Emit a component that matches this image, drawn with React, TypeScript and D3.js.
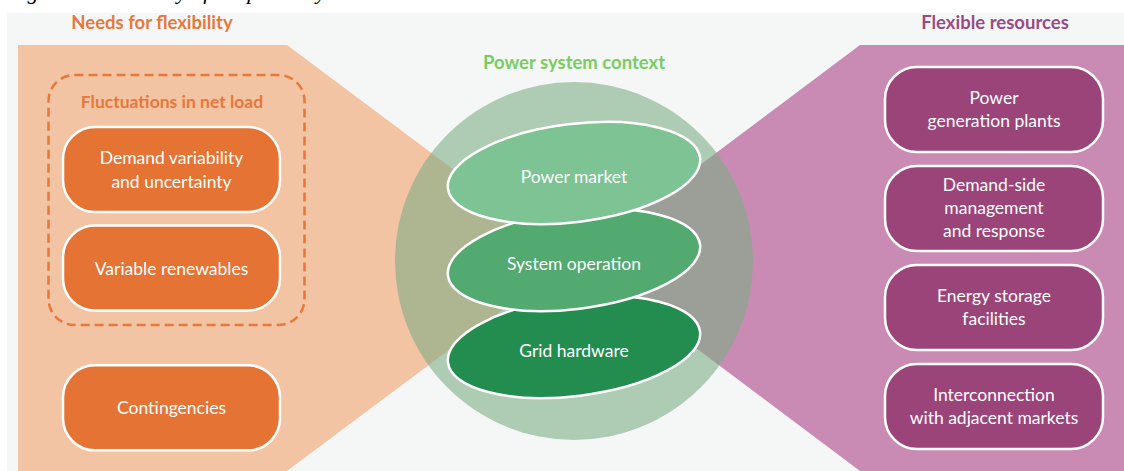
import React from "react";
import * as d3 from "d3";

const W = 1124;
const H = 471;

const captionText = "Figure 1: Flexibility of the power system";
const needsTitle = "Needs for flexibility";
const groupTitle = "Fluctuations in net load";
const needsBoxes = [
  ["Demand variability", "and uncertainty"],
  ["Variable renewables"],
  ["Contingencies"],
];
const needsSlots = [0, 1, 2.42];
const contextTitle = "Power system context";
const layers = ["Power market", "System operation", "Grid hardware"];
const layerColors = ["#7dc393", "#53aa70", "#238d50"];
const resourcesTitle = "Flexible resources";
const resourceBoxes = [
  ["Power", "generation plants"],
  ["Demand-side", "management", "and response"],
  ["Energy storage", "facilities"],
  ["Interconnection", "with adjacent markets"],
];

const FONT = "Lato, 'Open Sans', sans-serif";

function MultiLine({ lines, x, y, lh, size, fill, weight }: any) {
  const off = -((lines.length - 1) * lh) / 2;
  return (
    <text
      x={x}
      y={y}
      textAnchor="middle"
      fontFamily={FONT}
      fontSize={size}
      fontWeight={weight || 400}
      fill={fill}
    >
      {lines.map((l: string, i: number) => (
        <tspan key={i} x={x} y={y + off + i * lh} dominantBaseline="central">
          {l}
        </tspan>
      ))}
    </text>
  );
}

export default function App() {
  const needsY = d3.scaleLinear().domain([0, 1]).range([169.5, 268]);
  const resY = d3.scalePoint<number>().domain(d3.range(resourceBoxes.length)).range([109.5, 406.5]);
  const layerY = d3.scalePoint<number>().domain(d3.range(layers.length)).range([173, 347]);

  const cx = 574;
  const cy = 261;
  const R = 179;

  const leftPoly = [
    [18, 45],
    [287, 45],
    [572, 258],
    [287, 471],
    [18, 471],
  ];
  const rightPoly = [
    [1124, 45],
    [860, 45],
    [576, 258],
    [860, 471],
    [1124, 471],
  ];
  const line = d3.line();

  const boxW = 217;
  const boxH = 85;
  const leftBoxX = 63;
  const rightBoxX = 885;

  const layerOrder = d3.range(layers.length).reverse();

  return (
    <svg
      width={W}
      height={H}
      style={{ position: "absolute", left: 0, top: 0 }}
    >
      <rect x={0} y={0} width={W} height={H} fill="#ffffff" />
      <text
        x={8}
        y={-1}
        fontFamily="'Liberation Serif', serif"
        fontStyle="italic"
        fontSize={22}
        fill="#000"
      >
        {captionText}
      </text>
      <rect x={7} y={13} width={W - 7} height={H - 13} fill="#f5f7f7" />

      <path d={line(leftPoly as any) + "Z"} fill="#f2c4a3" />
      <path d={line(rightPoly as any) + "Z"} fill="#c98bb3" />

      <text x={152} y={22} textAnchor="middle" dominantBaseline="central" fontFamily={FONT} fontWeight={700} fontSize={18.5} fill="#e8783a">
        {needsTitle}
      </text>
      <text x={995} y={22} textAnchor="middle" dominantBaseline="central" fontFamily={FONT} fontWeight={700} fontSize={18.5} fill="#9a4a83">
        {resourcesTitle}
      </text>

      <rect
        x={48.5}
        y={75}
        width={256}
        height={250}
        rx={26}
        fill="none"
        stroke="#e8773a"
        strokeWidth={2.5}
        strokeDasharray="9 5"
      />
      <text x={172} y={101} textAnchor="middle" dominantBaseline="central" fontFamily={FONT} fontWeight={700} fontSize={17.5} fill="#e8773a">
        {groupTitle}
      </text>

      {needsBoxes.map((lines, i) => {
        const y = needsY(needsSlots[i]);
        return (
          <g key={i}>
            <rect
              x={leftBoxX}
              y={y - boxH / 2}
              width={boxW}
              height={boxH}
              rx={32}
              fill="#e57334"
              stroke="#ffffff"
              strokeWidth={2.5}
            />
            <MultiLine lines={lines} x={leftBoxX + boxW / 2} y={y} lh={23.5} size={17.5} fill="#ffffff" />
          </g>
        );
      })}

      <circle cx={cx} cy={cy} r={R} fill="#7fae86" fillOpacity={0.6} />
      <text x={cx} y={62} textAnchor="middle" dominantBaseline="central" fontFamily={FONT} fontWeight={700} fontSize={18.5} fill="#79cc62">
        {contextTitle}
      </text>

      {layerOrder.map((i) => {
        const y = layerY(i) as number;
        return (
          <g key={i} transform={`translate(${cx},${y}) rotate(-7)`}>
            <ellipse cx={0} cy={0} rx={127} ry={49} fill={layerColors[i]} stroke="#ffffff" strokeWidth={2.5} />
          </g>
        );
      })}
      {layers.map((l, i) => (
        <text
          key={l}
          x={cx}
          y={(layerY(i) as number) + 3}
          textAnchor="middle"
          dominantBaseline="central"
          fontFamily={FONT}
          fontSize={17.5}
          fill="#ffffff"
        >
          {l}
        </text>
      ))}

      {resourceBoxes.map((lines, i) => {
        const y = resY(i) as number;
        return (
          <g key={i}>
            <rect
              x={rightBoxX}
              y={y - boxH / 2}
              width={218}
              height={boxH}
              rx={32}
              fill="#9b4479"
              stroke="#ffffff"
              strokeWidth={2.5}
            />
            <MultiLine lines={lines} x={rightBoxX + 109} y={y - 1} lh={23} size={17.5} fill="#ffffff" />
          </g>
        );
      })}
    </svg>
  );
}
